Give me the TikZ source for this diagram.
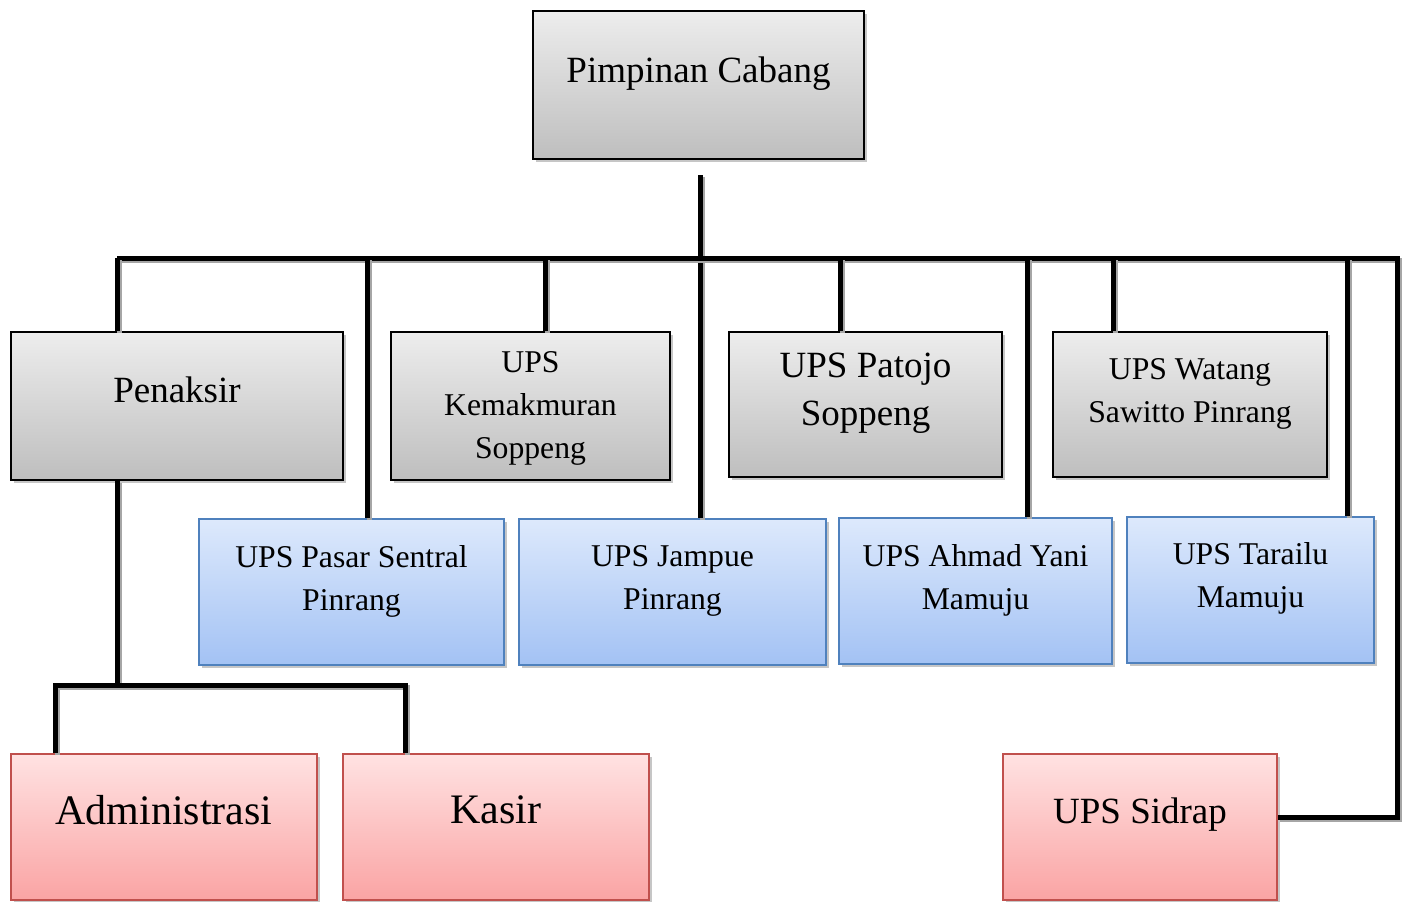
\documentclass[tikz,border=0pt]{standalone}
\usepackage{fontspec}
\setmainfont{Liberation Serif}
\usepackage{tikz}
\usetikzlibrary{shapes,shadows,calc}

\definecolor{greytop}{RGB}{237,237,237}
\definecolor{greybot}{RGB}{190,190,190}
\definecolor{bluetop}{RGB}{221,233,252}
\definecolor{bluebot}{RGB}{163,194,244}
\definecolor{blueline}{RGB}{79,129,189}
\definecolor{redtop}{RGB}{255,226,226}
\definecolor{redbot}{RGB}{250,164,164}
\definecolor{redline}{RGB}{192,80,77}

\newcommand{\smalltxt}{\fontsize{15.85}{21.5}\selectfont}
\newcommand{\midtxt}{\fontsize{18.5}{24}\selectfont}
\newcommand{\bigtxt}{\fontsize{21}{26}\selectfont}

\begin{document}
\begin{tikzpicture}[x=0.5pt,y=-0.5pt]
\tikzstyle{box}=[rectangle, draw, line width=0.75pt,
                 drop shadow={shadow xshift=1.3pt, shadow yshift=-1.3pt, opacity=0.45}]
\tikzstyle{greybox}=[box, draw=black, top color=greytop, bottom color=greybot]
\tikzstyle{bluebox}=[box, draw=blueline, top color=bluetop, bottom color=bluebot]
\tikzstyle{redbox}=[box, draw=redline, top color=redtop, bottom color=redbot]
\tikzstyle{link}=[line width=2.5pt,
                  preaction={draw=black!35, line width=2.5pt,
                             transform canvas={shift={(1pt,-1pt)}}}]
\useasboundingbox (0,0) rectangle (1408,901);

% top
\node[greybox, minimum width=165.5pt, minimum height=74pt,
      label={[font=\midtxt, yshift=5.5pt]center:Pimpinan Cabang}]
      (pimpinan) at (698.5,85) {};

% first row
\node[greybox, minimum width=166pt, minimum height=74pt,
      label={[font=\midtxt, yshift=8pt]center:Penaksir}]
      (penaksir) at (177,406) {};
\node[greybox, minimum width=139.5pt, minimum height=74pt,
      label={[font=\smalltxt, align=center, yshift=-1pt]center:{UPS\\Kemakmuran\\Soppeng}}]
      (kemakmuran) at (530.5,406) {};
\node[greybox, minimum width=136.5pt, minimum height=72.5pt,
      label={[font=\midtxt, align=center, yshift=5.5pt]center:{UPS Patojo\\Soppeng}}]
      (patojo) at (865.5,404.5) {};
\node[greybox, minimum width=137pt, minimum height=72.5pt,
      label={[font=\smalltxt, align=center, yshift=5.5pt]center:{UPS Watang\\Sawitto Pinrang}}]
      (watang) at (1190,404.5) {};

% second row
\node[bluebox, minimum width=152.5pt, minimum height=73pt,
      label={[font=\smalltxt, align=center, yshift=5.5pt]center:{UPS Pasar Sentral\\Pinrang}}]
      (pasar) at (351.5,592) {};
\node[bluebox, minimum width=153.5pt, minimum height=73pt,
      label={[font=\smalltxt, align=center, yshift=5.5pt]center:{UPS Jampue\\Pinrang}}]
      (jampue) at (672.5,592) {};
\node[bluebox, minimum width=136.5pt, minimum height=73pt,
      label={[font=\smalltxt, align=center, yshift=5.5pt]center:{UPS Ahmad Yani\\Mamuju}}]
      (ahmad) at (975.5,591) {};
\node[bluebox, minimum width=123.5pt, minimum height=73pt,
      label={[font=\smalltxt, align=center, yshift=6pt]center:{UPS Tarailu\\Mamuju}}]
      (tarailu) at (1250.5,590) {};

% bottom row
\node[redbox, minimum width=153pt, minimum height=73pt,
      label={[font=\bigtxt, yshift=8.5pt]center:Administrasi}]
      (admin) at (164,827) {};
\node[redbox, minimum width=153pt, minimum height=73pt,
      label={[font=\bigtxt, yshift=8.5pt]center:Kasir}]
      (kasir) at (496,827) {};
\node[redbox, minimum width=137pt, minimum height=73pt,
      label={[font=\midtxt, yshift=6pt]center:UPS Sidrap}]
      (sidrap) at (1140,827) {};

% connectors
\coordinate (top) at (700,175);
\coordinate (busL) at (117,258);
\coordinate (busR) at (1397,258);
\coordinate (sub) at (117,685);

\draw[link] (top) -- (top |- jampue.north);
\draw[link] (busL) -- (busR) -- (busR |- 0,817) -- (sidrap.east |- 0,817);
\draw[link] (busL) -- (busL |- penaksir.north);
\foreach \x/\n in {367/pasar,545/kemakmuran,840/patojo,1027/ahmad,1113/watang,1347/tarailu}
  \draw[link] (\x,258) -- (\x,258 |- \n.north);
\draw[link] (busL |- penaksir.south) -- (sub);
\draw[link] (55,0 |- admin.north) |- (sub) -| (405,0 |- kasir.north);

\end{tikzpicture}
\end{document}
